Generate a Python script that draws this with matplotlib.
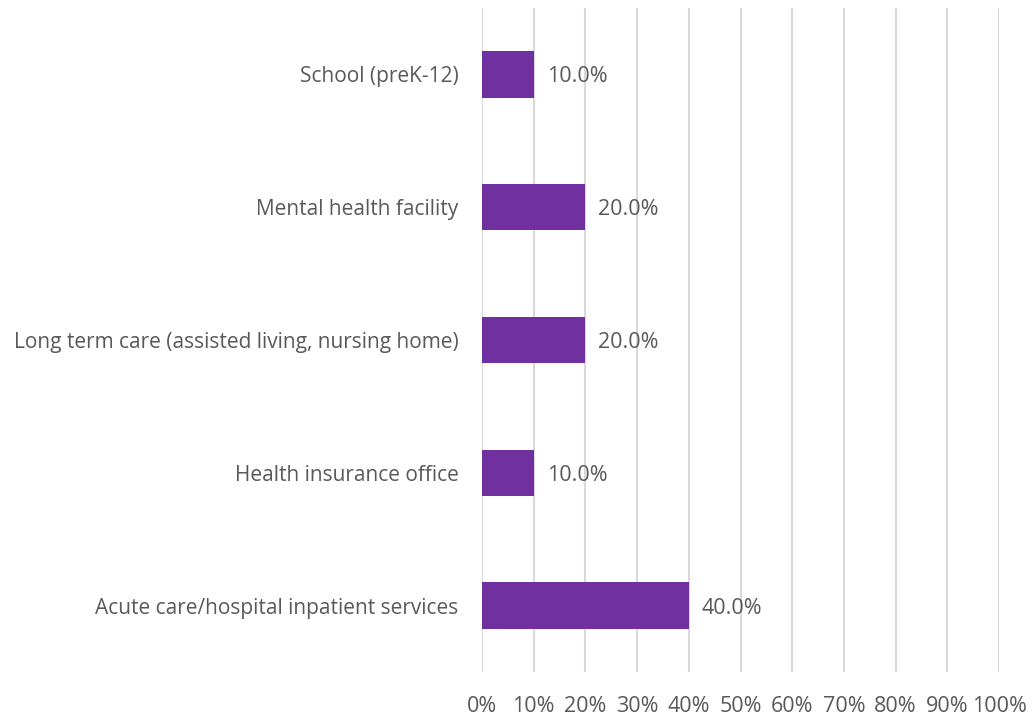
import matplotlib
matplotlib.use("Agg")
import matplotlib.pyplot as plt
import numpy as np

categories = [
    "Acute care/hospital inpatient services",
    "Health insurance office",
    "Long term care (assisted living, nursing home)",
    "Mental health facility",
    "School (preK-12)",
]
values = [40.0, 10.0, 20.0, 20.0, 10.0]
xticks = list(range(0, 101, 10))

BAR_COLOR = "#7030A0"
TEXT_COLOR = "#595959"
GRID_COLOR = "#D9D9D9"

plt.rcParams["font.family"] = ["Open Sans", "DejaVu Sans"]

fig = plt.figure(figsize=(10.34, 7.19), dpi=100)
ax = fig.add_axes([482 / 1034, 1 - 672 / 719, 517 / 1034, 664 / 719])

y = np.arange(len(categories))
ax.barh(y, values, height=0.35, color=BAR_COLOR, zorder=3)

# data labels just right of each bar
for yi, v in zip(y, values):
    ax.text(v + 2.5, yi, f"{v:.1f}%", va="center_baseline", ha="left",
            fontsize=15.5, color=TEXT_COLOR)

ax.set_xlim(0, 100)
ax.set_ylim(-0.5, len(categories) - 0.5)
ax.set_xticks(xticks)
ax.set_xticklabels([f"{t}%" for t in xticks])
ax.set_yticks(y)
ax.set_yticklabels(categories)
ax.tick_params(axis="y", length=0, labelsize=15, colors=TEXT_COLOR, pad=17)
ax.tick_params(axis="x", length=0, labelsize=15.5, colors=TEXT_COLOR, pad=17)

ax.grid(axis="x", color=GRID_COLOR, linewidth=1.5, zorder=0)
for s in ax.spines.values():
    s.set_visible(False)

fig.savefig("out.png", dpi=100)
